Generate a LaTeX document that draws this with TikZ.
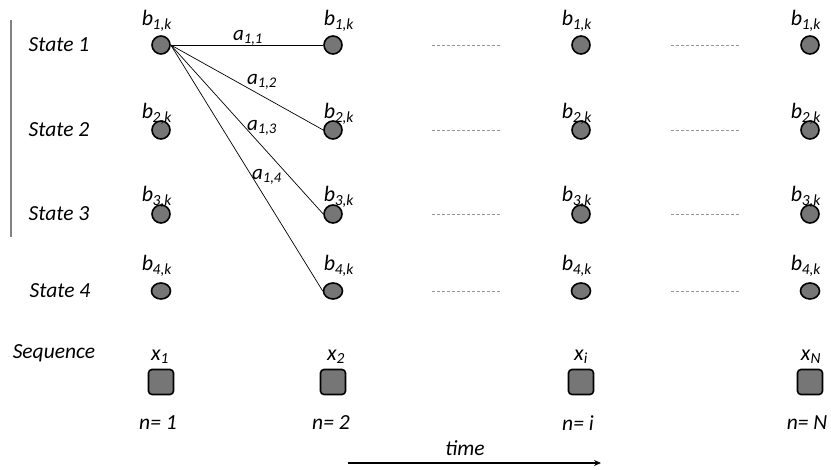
\documentclass[tikz,border=0pt]{standalone}
\usepackage{fontspec}
\setmainfont{Carlito}
\usetikzlibrary{shapes.geometric,arrows.meta}
\definecolor{nodefill}{RGB}{118,118,118}
\definecolor{dashgray}{RGB}{150,150,150}
\definecolor{bargray}{RGB}{130,130,130}
\newcommand{\bl}[1]{\textit{b}\textsubscript{\kern-0.5pt\textit{#1}}}
\newcommand{\al}[1]{\textit{a}\textsubscript{\textit{#1}}}
\begin{document}
\begin{tikzpicture}[x=1pt,y=-1pt,
  stnode/.style={circle,draw=black,line width=1.6pt,fill=nodefill,minimum size=18pt,inner sep=0pt},
  stlow/.style={ellipse,draw=black,line width=1.6pt,fill=nodefill,minimum width=19pt,minimum height=16pt,inner sep=0pt},
  obsnode/.style={rectangle,rounded corners=3.5pt,draw=black,line width=1.6pt,fill=nodefill,minimum size=25pt,inner sep=0pt},
  lab/.style={font=\fontsize{21.5}{24}\selectfont\itshape,inner sep=0pt},
  blab/.style={font=\fontsize{22}{24}\selectfont,inner sep=0pt},
  elab/.style={font=\fontsize{21}{24}\selectfont,inner sep=0pt},
  trans/.style={line width=0.7pt},
  dots/.style={dashgray,line width=0.6pt,dash pattern=on 2.5pt off 2.5pt}]
\useasboundingbox (0,0) rectangle (831,470);
% left bar
\coordinate (bartop) at (11,20);
\coordinate (barbot) at (11,237);
\draw[bargray,line width=1.5pt] (bartop) -- (barbot);
% row labels
\node[lab] (s1) at (59,45) {State 1};
\node[lab] (s2) at (59,130) {State 2};
\node[lab] (s3) at (59,214) {State 3};
\node[lab] (s4) at (60,291) {State 4};
\node[lab] (sq) at (54,353) {Sequence};
% state nodes
\foreach \c/\x in {1/161,2/333,3/581,4/810}{
  \node[stnode] (n1\c) at (\x,45) {};
  \node[stnode] (n2\c) at (\x,130) {};
  \node[stnode] (n3\c) at (\x,214) {};
  \node[stlow] (n4\c) at (\x,291) {};
  \node[obsnode] (o\c) at (\x,382) {};
}
% b labels
\foreach \r/\y in {1/21,2/114,3/197,4/266}{
  \node[blab] (b\r1) at (157,\y) {\bl{\r,k}};
  \node[blab] (b\r2) at (339,\y) {\bl{\r,k}};
  \node[blab] (b\r3) at (577,\y) {\bl{\r,k}};
  \node[blab] (b\r4) at (806,\y) {\bl{\r,k}};
}
% x labels
\node[blab] (x1) at (160,357) {\textit{x}\textsubscript{\textit{1}}};
\node[blab] (x2) at (336,357) {\textit{x}\textsubscript{\textit{2}}};
\node[blab] (x3) at (581,357) {\textit{x}\textsubscript{\textit{i}}};
\node[blab] (x4) at (811,357) {\textit{x}\textsubscript{\textit{N}}};
% n labels
\node[lab] (m1) at (158,423) {n= 1};
\node[lab] (m2) at (331,423) {n= 2};
\node[lab] (m3) at (578,423) {n= i};
\node[lab] (m4) at (807,423) {n= N};
% transitions
\draw[trans] (n11.east) -- (n12.west);
\draw[trans] (n11.east) -- (n22.west);
\draw[trans] (n11.east) -- (n32.west);
\draw[trans] (n11.east) -- (n42.west);
\node[elab] (a11) at (248,38) {\al{1,1}};
\node[elab] (a12) at (262,82) {\al{1,2}};
\node[elab] (a13) at (262,128) {\al{1,3}};
\node[elab] (a14) at (267,177) {\al{1,4}};
% dotted continuation lines
\foreach \r/\y in {1/45,2/130,3/214,4/291}{
  \coordinate (dl\r) at (432,\y);
  \coordinate (dr\r) at (501,\y);
  \coordinate (el\r) at (671,\y);
  \coordinate (er\r) at (739,\y);
  \draw[dots] (dl\r) -- (dr\r);
  \draw[dots] (el\r) -- (er\r);
}
% time arrow
\coordinate (ts) at (348,463);
\coordinate (te) at (601,463);
\draw[line width=1.3pt,-{Stealth[length=7pt,width=6pt]}] (ts) -- (te);
\node[lab] (tl) at (465,448) {time};
\end{tikzpicture}
\end{document}
